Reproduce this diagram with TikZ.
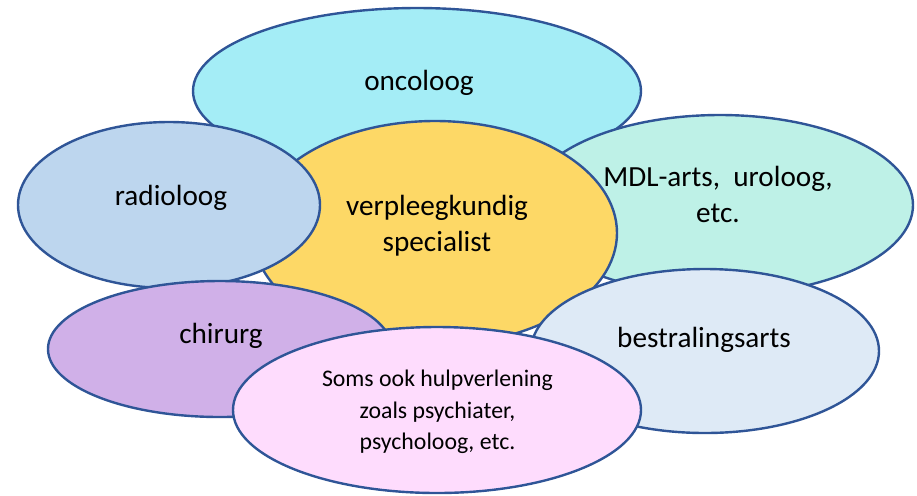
\documentclass[tikz,border=0pt]{standalone}
\usepackage{fontspec}
\setmainfont{Carlito}
\definecolor{rim}{HTML}{2F5597}
\definecolor{skyfill}{HTML}{A4EDF6}
\definecolor{mintfill}{HTML}{BEF1E7}
\definecolor{goldfill}{HTML}{FDD866}
\definecolor{bluefill}{HTML}{BDD6EE}
\definecolor{lilacfill}{HTML}{D0B0E8}
\definecolor{palefill}{HTML}{DEEAF6}
\definecolor{pinkfill}{HTML}{FEDCFD}

\begin{document}
\begin{tikzpicture}[x=0.5pt,y=-0.5pt,font=\fontsize{14.6}{18}\selectfont,
  bubble/.style={draw=rim,line width=1.2pt}]
  \useasboundingbox (0,0) rectangle (917,495);
  % back row
  \filldraw[bubble,fill=skyfill] (417,91) ellipse (224 and 83);
  \node[anchor=base] (onco) at (419,90) {oncoloog};
  \filldraw[bubble,fill=mintfill] (720,205) ellipse (193 and 90);
  \node[align=center] (mdl) at (718,194) {MDL-arts,\ \ uroloog,\\etc.};
  % centre
  \filldraw[bubble,fill=goldfill] (435,233) ellipse (182 and 112);
  \node[align=center] (vs) at (437,226) {verpleegkundig\\specialist};
  % left side
  \filldraw[bubble,fill=bluefill] (169,205) ellipse (151 and 83);
  \node[anchor=base] (radio) at (171,205) {radioloog};
  \filldraw[bubble,fill=lilacfill] (220,349) ellipse (172 and 68);
  \node[anchor=base] (chir) at (221,343) {chirurg};
  % right side
  \filldraw[bubble,fill=palefill] (705,351) ellipse (174 and 82);
  \node[anchor=base] (bestr) at (704,347) {bestralingsarts};
  % front
  \filldraw[bubble,fill=pinkfill] (437,410) ellipse (204 and 83);
  \node[align=center,font=\fontsize{11.9}{15.7}\selectfont] (hulp) at (437.5,412)
    {Soms ook hulpverlening\\zoals psychiater,\\psycholoog, etc.};
\end{tikzpicture}
\end{document}
